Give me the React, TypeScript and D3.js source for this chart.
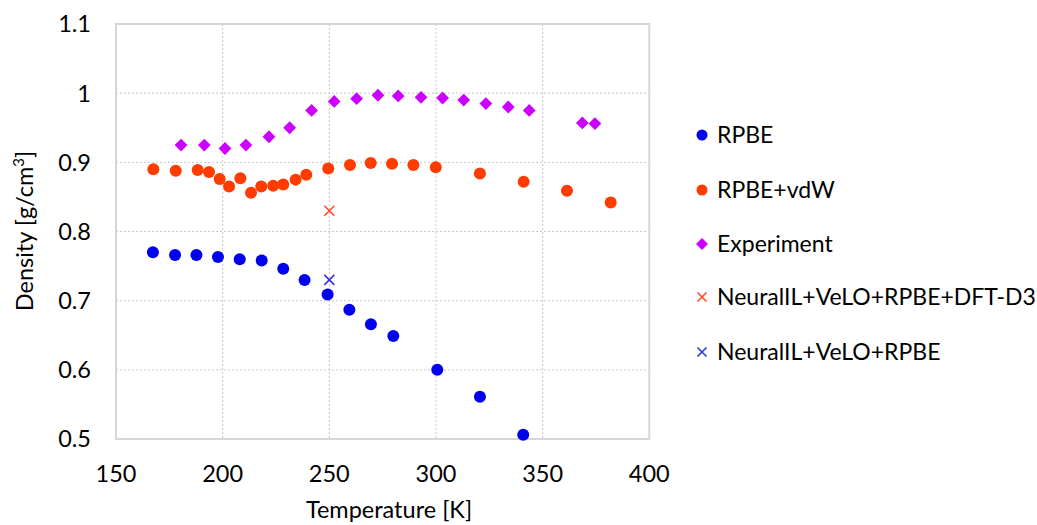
import React from "react";
import * as d3 from "d3";

const rpbeT = [167.3, 177.7, 187.7, 197.8, 208, 218.3, 228.4, 238.4, 249.2, 259.4, 269.5, 280, 300.6, 320.6, 340.9];
const rpbeRho = [0.770, 0.766, 0.766, 0.763, 0.760, 0.758, 0.746, 0.730, 0.709, 0.687, 0.666, 0.649, 0.600, 0.561, 0.506];

const vdwT = [167.5, 178, 188.3, 193.6, 198.6, 203, 208.3, 213.3, 218.1, 223.7, 228.4, 234.2, 239.2, 249.5, 259.7, 269.4, 279.4, 289.4, 299.9, 320.6, 341.1, 361.4, 381.9];
const vdwRho = [0.890, 0.888, 0.889, 0.886, 0.876, 0.865, 0.877, 0.856, 0.865, 0.866, 0.868, 0.875, 0.882, 0.891, 0.896, 0.899, 0.898, 0.896, 0.893, 0.884, 0.872, 0.859, 0.842];

const expT = [180.5, 191.4, 201.1, 210.9, 221.7, 231.4, 241.7, 252.3, 262.8, 272.8, 282.3, 293, 303.1, 313, 323.4, 333.9, 343.7, 368.6, 374.5];
const expRho = [0.925, 0.925, 0.920, 0.925, 0.937, 0.950, 0.975, 0.988, 0.992, 0.997, 0.996, 0.994, 0.993, 0.990, 0.985, 0.980, 0.975, 0.957, 0.956];

const d3T = [250];
const d3Rho = [0.83];
const nnT = [250];
const nnRho = [0.73];

const xTicks = [150, 200, 250, 300, 350, 400];
const yTicks = [0.5, 0.6, 0.7, 0.8, 0.9, 1.0, 1.1];
const yTickLabels = ["0.5", "0.6", "0.7", "0.8", "0.9", "1", "1.1"];

const legendLabels = ["RPBE", "RPBE+vdW", "Experiment", "NeuralIL+VeLO+RPBE+DFT-D3", "NeuralIL+VeLO+RPBE"];

const BLUE = "#0000f0";
const ORANGE = "#ff3c00";
const PURPLE = "#cc00ff";
const XORANGE = "#ff4d26";
const XBLUE = "#3333d6";

const FONT = "Lato, 'Open Sans', sans-serif";
const FS = 23.5;

export default function App() {
  const W = 1037, H = 525;
  const left = 116, right = 649.3, top = 24, bottom = 439;
  const x = d3.scaleLinear().domain([150, 400]).range([left, right]);
  const y = d3.scaleLinear().domain([0.5, 1.1]).range([bottom, top]);

  const circle = (cx: number, cy: number, fill: string, key: string, r = 6) => (
    <circle key={key} cx={cx} cy={cy} r={r} fill={fill} />
  );
  const diamond = (cx: number, cy: number, fill: string, key: string, s = 6.4) => (
    <path key={key} d={`M${cx},${cy - s}L${cx + s},${cy}L${cx},${cy + s}L${cx - s},${cy}Z`} fill={fill} />
  );
  const cross = (cx: number, cy: number, stroke: string, key: string, s = 5) => (
    <path key={key} d={`M${cx - s},${cy - s}L${cx + s},${cy + s}M${cx - s},${cy + s}L${cx + s},${cy - s}`} stroke={stroke} strokeWidth={1.6} fill="none" />
  );

  const legendY = [135, 190, 244, 297, 352];
  const legendMarkers = [
    (cy: number) => circle(702, cy, BLUE, "lm0", 5.5),
    (cy: number) => circle(702, cy, ORANGE, "lm1", 5.5),
    (cy: number) => diamond(702, cy, PURPLE, "lm2", 6),
    (cy: number) => cross(702, cy, XORANGE, "lm3", 4.5),
    (cy: number) => cross(702, cy, XBLUE, "lm4", 4.5),
  ];

  return (
    <svg width={W} height={H} style={{ position: "absolute", left: 0, top: 0, background: "#fff" }} fontFamily={FONT}>
      <rect x={0} y={0} width={W} height={H} fill="#fff" />
      {xTicks.slice(1, -1).map((t) => (
        <line key={"gx" + t} x1={x(t)} x2={x(t)} y1={top} y2={bottom} stroke="#c8c8c8" strokeWidth={1} strokeDasharray="2,2" />
      ))}
      {yTicks.slice(1, -1).map((t) => (
        <line key={"gy" + t} x1={left} x2={right} y1={y(t)} y2={y(t)} stroke="#c8c8c8" strokeWidth={1} strokeDasharray="2,2" />
      ))}
      <rect x={left} y={top} width={right - left} height={bottom - top} fill="none" stroke="#d6d6d6" strokeWidth={2} />

      {yTicks.map((t, i) => (
        <text key={"yl" + t} x={left - 25} y={y(t)} dy="0.36em" textAnchor="end" fontSize={FS} fill="#000">{yTickLabels[i]}</text>
      ))}
      {xTicks.map((t) => (
        <text key={"xl" + t} x={x(t)} y={482} textAnchor="middle" fontSize={FS} fill="#000">{t}</text>
      ))}
      <text x={389} y={518} textAnchor="middle" fontSize={FS} fill="#000">Temperature [K]</text>
      <text transform={`translate(33,231) rotate(-90)`} textAnchor="middle" fontSize={FS} fill="#000">
        Density [g/cm<tspan dy="-9" fontSize={15}>3</tspan><tspan dy="9">]</tspan>
      </text>

      {expT.map((t, i) => diamond(x(t), y(expRho[i]), PURPLE, "e" + i))}
      {vdwT.map((t, i) => circle(x(t), y(vdwRho[i]), ORANGE, "v" + i))}
      {rpbeT.map((t, i) => circle(x(t), y(rpbeRho[i]), BLUE, "r" + i))}
      {d3T.map((t, i) => cross(x(t), y(d3Rho[i]), XORANGE, "xd" + i))}
      {nnT.map((t, i) => cross(x(t), y(nnRho[i]), XBLUE, "xn" + i))}

      {legendLabels.map((lab, i) => (
        <g key={"lg" + i}>
          {legendMarkers[i](legendY[i])}
          <text x={717} y={legendY[i]} dy="0.36em" fontSize={23} fill="#000">{lab}</text>
        </g>
      ))}
    </svg>
  );
}
